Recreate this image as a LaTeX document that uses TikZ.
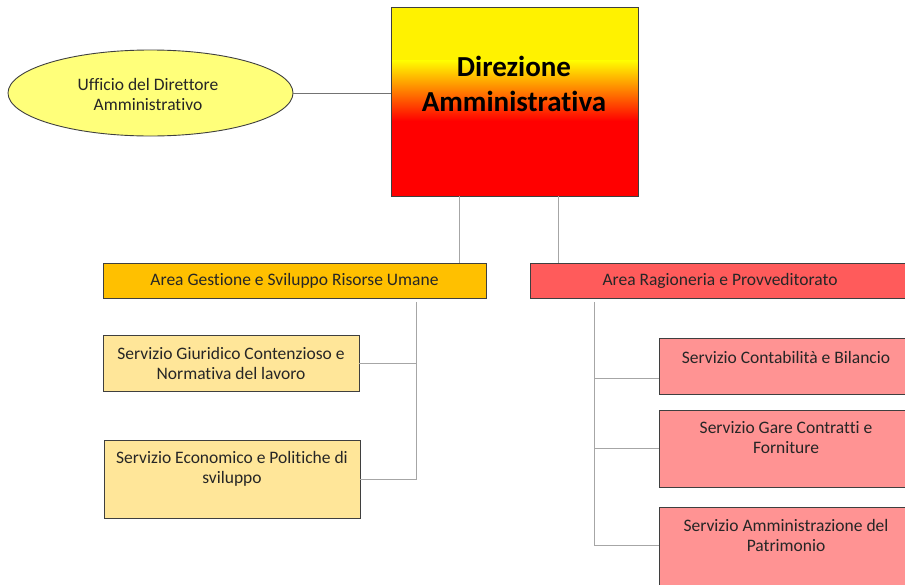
\documentclass[tikz,border=0pt]{standalone}
\usepackage{fontspec}
\setmainfont{Carlito}[Ligatures={NoCommon}]
\usetikzlibrary{shapes.geometric}
\definecolor{lineg}{HTML}{A6A6A6}
\definecolor{edge}{HTML}{3F3F3F}
\definecolor{ellfill}{HTML}{FFFF7A}
\definecolor{areaL}{HTML}{FFC000}
\definecolor{areaR}{HTML}{FF5B5B}
\definecolor{servL}{HTML}{FFE699}
\definecolor{servR}{HTML}{FF9393}
\definecolor{txt}{HTML}{262626}
\begin{document}
\begin{tikzpicture}[x=1pt,y=-1pt,
  box/.style={draw=edge, line width=0.9pt, rectangle, inner sep=0pt},
  conn/.style={draw=lineg, line width=1pt},
  label/.style={text=txt, font=\fontsize{17.5}{20}\selectfont, align=center, inner sep=0pt}]
\clip (0,0) rectangle (905,584);
\fill[white] (0,0) rectangle (905,584);
% gradient fill of the head box
\fill[yellow] (391,7) rectangle (638,60);
\shade[top color=yellow, bottom color=red] (391,60) rectangle (638,121);
\fill[red] (391,121) rectangle (638,196);
\node[box, minimum width=247pt, minimum height=189pt] (dir) at (514.5,101.5) {};
\node[align=center, inner sep=0pt, font=\fontsize{29}{35}\selectfont\bfseries, text=black]
  at (514,84) {Direzione\\Amministrativa};
% ellipse
\node[ellipse, draw=edge, line width=0.9pt, fill=ellfill, minimum width=285pt,
      minimum height=86pt, inner sep=0pt] (uff) at (150.5,93) {};
\node[label] at (148,94) {Ufficio del Direttore\\Amministrativo};
% areas
\node[box, fill=areaL, minimum width=383pt, minimum height=35pt] (ag) at (294.5,280.5) {};
\node[label] at (ag.center) {Area Gestione e Sviluppo Risorse Umane};
\node[box, fill=areaR, minimum width=380pt, minimum height=35pt] (ar) at (720,280.5) {};
\node[label] at (ar.center) {Area Ragioneria e Provveditorato};
% left services
\node[box, fill=servL, minimum width=256pt, minimum height=56pt] (s1) at (231,363) {};
\node[label] at (231,363) {Servizio Giuridico Contenzioso e\\Normativa del lavoro};
\node[box, fill=servL, minimum width=256pt, minimum height=78pt] (s2) at (232,479) {};
\node[label] at (232,469) {Servizio Economico e Politiche di\\sviluppo};
% right services
\node[box, fill=servR, minimum width=254pt, minimum height=56pt] (r1) at (786,366) {};
\node[label] at (786,357) {Servizio Contabilità e Bilancio};
\node[box, fill=servR, minimum width=254pt, minimum height=77pt] (r2) at (786,448.5) {};
\node[label] at (786,438) {Servizio Gare Contratti e\\Forniture};
\node[box, fill=servR, minimum width=254pt, minimum height=90pt] (r3) at (786,552) {};
\node[label] at (786,535.5) {Servizio Amministrazione del\\Patrimonio};
% connectors
\coordinate (lbus) at (416,302);
\coordinate (rbus) at (594,302);
\draw[draw=gray!90!black, line width=1pt] (uff.east) -- (uff.east -| dir.west);
\draw[conn] (dir.south -| 459,0) -- (ag.north -| 459,0);
\draw[conn] (dir.south -| 558,0) -- (ar.north -| 558,0);
\draw[conn] (lbus) -- (lbus |- s2.east) -- (s2.east);
\draw[conn] (lbus |- s1.east) -- (s1.east);
\draw[conn] (rbus) -- (594,545) -- (r3.west |- 0,545);
\draw[conn] (594,378) -- (r1.west |- 0,378);
\draw[conn] (594,448) -- (r2.west |- 0,448);
\end{tikzpicture}
\end{document}
